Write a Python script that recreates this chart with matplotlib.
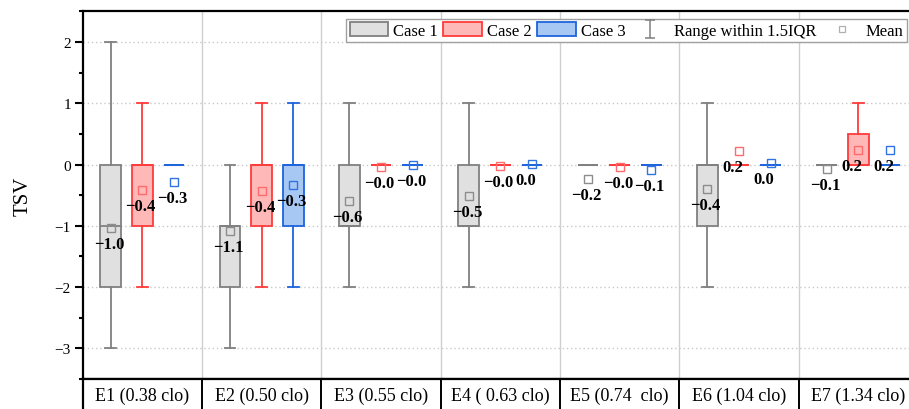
import numpy as np
import matplotlib
matplotlib.use("Agg")
from matplotlib import pyplot as plt
from matplotlib.patches import Patch
from matplotlib.lines import Line2D
from matplotlib.path import Path
from matplotlib.ticker import MultipleLocator

plt.rcParams['font.family'] = ['Liberation Serif', 'DejaVu Serif']

# Categories
groups = ["E1 (0.38 clo)", "E2 (0.50 clo)", "E3 (0.55 clo)", "E4 ( 0.63 clo)",
          "E5 (0.74  clo)", "E6 (1.04 clo)", "E7 (1.34 clo)"]
cases = ["Case 1", "Case 2", "Case 3"]

# Case 1 box stats (TSV)
c1_lo = [-3, -3, -2, -2, 0, -2, 0]
c1_q1 = [-2, -2, -1, -1, 0, -1, 0]
c1_med = [-1, -1, -1, -1, 0, 0, 0]
c1_q3 = [0, -1, 0, 0, 0, 0, 0]
c1_hi = [2, 0, 1, 1, 0, 1, 0]
c1_mean = [-1.03, -1.09, -0.60, -0.52, -0.24, -0.40, -0.08]

# Case 2 box stats
c2_lo = [-2, -2, 0, 0, 0, 0, 0]
c2_q1 = [-1, -1, 0, 0, 0, 0, 0]
c2_med = [0, 0, 0, 0, 0, 0, 0]
c2_q3 = [0, 0, 0, 0, 0, 0, 0.5]
c2_hi = [1, 1, 0, 0, 0, 0, 1]
c2_mean = [-0.42, -0.44, -0.04, -0.03, -0.04, 0.22, 0.23]

# Case 3 box stats
c3_lo = [0, -2, 0, 0, 0, 0, 0]
c3_q1 = [0, -1, 0, 0, 0, 0, 0]
c3_med = [0, 0, 0, 0, 0, 0, 0]
c3_q3 = [0, 0, 0, 0, 0, 0, 0]
c3_hi = [0, 1, 0, 0, 0, 0, 0]
c3_mean = [-0.29, -0.34, -0.01, 0.01, -0.09, 0.02, 0.24]

all_stats = [
    (c1_lo, c1_q1, c1_med, c1_q3, c1_hi, c1_mean),
    (c2_lo, c2_q1, c2_med, c2_q3, c2_hi, c2_mean),
    (c3_lo, c3_q1, c3_med, c3_q3, c3_hi, c3_mean),
]

faces = ['#e0e0e0', '#ffb8b8', '#a8c8f4']
edges = ['#808080', '#ff3b3b', '#1e64dc']
means_col = ['#8c8c8c', '#ff6a6a', '#2f74e0']

fig = plt.figure(figsize=(9.09, 4.10), dpi=100)
ax = fig.add_axes([82.7 / 909, 30 / 410, (918 - 82.7) / 909, (380 - 12.3) / 410])
tab = fig.add_axes([82.7 / 909, -2 / 410, (918 - 82.7) / 909, 32 / 410])

x = np.arange(len(groups))
offsets = [-0.265, 0.0, 0.265]

for k in range(3):
    lo, q1, med, q3, hi, mn = all_stats[k]
    stats = []
    for i in range(len(groups)):
        stats.append(dict(whislo=lo[i], q1=q1[i], med=med[i], q3=q3[i],
                          whishi=hi[i], mean=mn[i], fliers=[]))
    ax.bxp(stats, positions=x + offsets[k], widths=0.173, capwidths=0.09,
           patch_artist=True, showmeans=True, showfliers=False, manage_ticks=False,
           boxprops=dict(facecolor=faces[k], edgecolor=edges[k], linewidth=1.3),
           whiskerprops=dict(color=edges[k], linewidth=1.3),
           capprops=dict(color=edges[k], linewidth=1.3),
           medianprops=dict(color=edges[k], linewidth=1.3),
           meanprops=dict(marker='s', markerfacecolor='none',
                          markeredgecolor=means_col[k], markersize=5.5,
                          markeredgewidth=1.0))
    for i in range(len(groups)):
        ax.annotate(f"{mn[i]:.1f}".replace('-', '\u2212'),
                    xy=(x[i] + offsets[k], mn[i]), xytext=(-17, -16),
                    textcoords='offset pixels', ha='left', va='center',
                    fontsize=12, fontweight='bold', color='black', zorder=10)

ax.set_xlim(-0.5, len(groups) - 0.5)
ax.set_ylim(-3.5, 2.5)
ax.set_xticks([])
ax.yaxis.set_major_locator(MultipleLocator(1))
ax.yaxis.set_minor_locator(MultipleLocator(0.5))
ax.tick_params(axis='y', which='major', direction='out', length=5.5, width=1.5,
               labelsize=11, pad=3)
ax.tick_params(axis='y', which='minor', direction='out', length=3, width=1.5)
ax.yaxis.grid(True, linestyle=(0, (1, 2)), color='#c8c8c8', linewidth=1)
ax.set_axisbelow(True)
for b in np.arange(len(groups) - 1) + 0.5:
    ax.axvline(b, color='#cfcfcf', linewidth=1, zorder=0)
for s in ax.spines.values():
    s.set_linewidth(1.6)
ax.set_ylabel("TSV", fontsize=15)
ax.yaxis.set_label_coords(-0.060, 0.5)

# category table under the plot
tab.set_xlim(-0.5, len(groups) - 0.5)
tab.set_ylim(0, 1)
tab.set_xticks([])
tab.set_yticks([])
for s in tab.spines.values():
    s.set_linewidth(1.6)
for b in np.arange(len(groups) - 1) + 0.5:
    tab.axvline(b, color='black', linewidth=1.4)
for i, g in enumerate(groups):
    tab.text(x[i], 0.5, g, ha='center', va='center', fontsize=13)

# legend
ibeam = Path([(-0.5, 1), (0.5, 1), (0, 1), (0, -1), (-0.5, -1), (0.5, -1)],
             [Path.MOVETO, Path.LINETO, Path.MOVETO, Path.LINETO, Path.MOVETO, Path.LINETO])
handles = [Patch(facecolor=faces[k], edgecolor=edges[k], linewidth=1.3) for k in range(3)]
handles.append(Line2D([], [], linestyle='none', marker=ibeam, markersize=13,
                      markerfacecolor='none', markeredgecolor='#808080', markeredgewidth=1.1))
handles.append(Line2D([], [], linestyle='none', marker='s', markersize=4.5,
                      markerfacecolor='none', markeredgecolor='#b0b0b0', markeredgewidth=0.9))
labels = cases + ["Range within 1.5IQR", "Mean"]
leg = ax.legend(handles, labels, ncol=5, loc='upper right',
                bbox_to_anchor=((907 - 82.7) / 835.3, (380 - 20) / 367.7),
                borderaxespad=0, fontsize=12, frameon=True, fancybox=False,
                framealpha=1, edgecolor='#a0a0a0', handlelength=2.3,
                handleheight=0.9, handletextpad=0.3, columnspacing=0.35,
                borderpad=0.2)
leg.get_frame().set_linewidth(1.0)
leg.set_zorder(20)

fig.savefig("out.png", dpi=100)
